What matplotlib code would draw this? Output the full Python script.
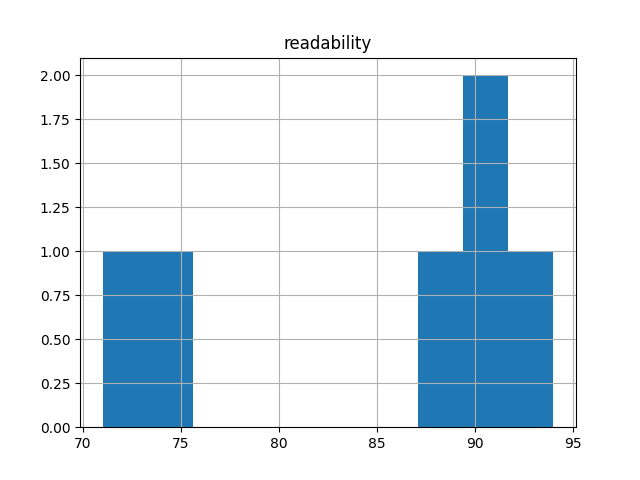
import matplotlib
matplotlib.use('Agg')
import matplotlib.pyplot as plt
import pandas as pd

# readability scores
readability = [71.0, 74.0, 88.0, 90.0, 91.0, 94.0]

df = pd.DataFrame({'readability': readability})

fig = plt.figure(figsize=(6.4, 4.8), dpi=100)
ax = fig.add_subplot(111)
df.hist(column='readability', bins=10, ax=ax)
plt.savefig('out.png')
